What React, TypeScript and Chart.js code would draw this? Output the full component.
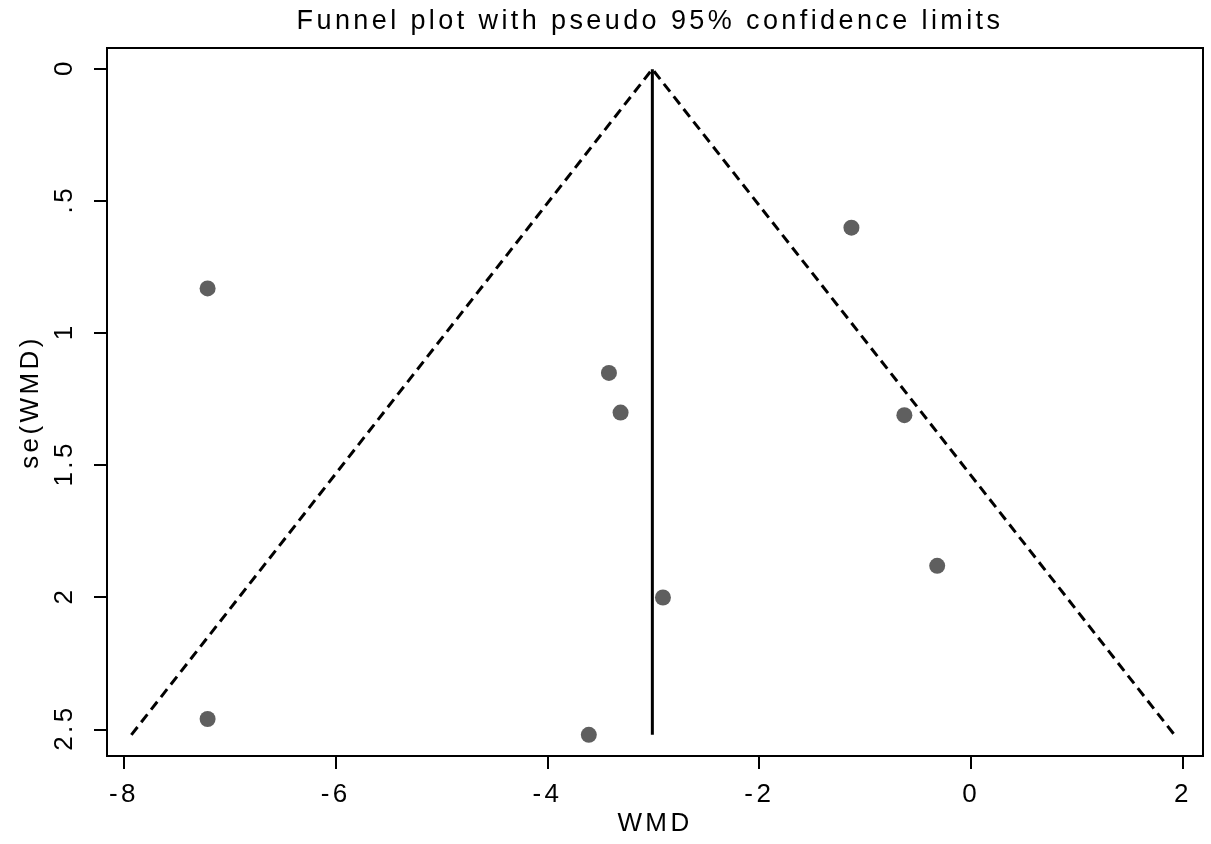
import React, { useEffect, useRef } from "react";
import { Chart, registerables } from "chart.js";

Chart.register(...registerables);

const titleText = "Funnel plot with pseudo 95% confidence limits";
const xAxisTitle = "WMD";
const yAxisTitle = "se(WMD)";

const xTickValues = [-8, -6, -4, -2, 0, 2];
const yTickValues = [0, 0.5, 1, 1.5, 2, 2.5];
const yTickLabels = ["0", ".5", "1", "1.5", "2", "2.5"];

// study estimates (WMD) and their standard errors
const studyWMD = [-7.21, -7.21, -3.42, -3.31, -2.91, -3.61, -1.13, -0.63, -0.32];
const studySE = [0.83, 2.46, 1.15, 1.3, 2.0, 2.52, 0.6, 1.31, 1.88];

// pseudo 95% confidence limits (funnel vertices)
const funnelWMD = [-7.93, -3.01, 1.92];
const funnelSE = [2.52, 0, 2.52];

// pooled estimate line
const pooledWMD = [-3.01, -3.01];
const pooledSE = [0, 2.52];

const FONT = "'Liberation Sans', Arial, sans-serif";
const SPACING = "3.4px";

const framePlugin = {
  id: "frameAndLabels",
  beforeDraw(chart: any) {
    (chart.ctx as any).letterSpacing = SPACING;
  },
  afterDraw(chart: any) {
    const { ctx, chartArea } = chart;
    const { left, right, top, bottom } = chartArea;
    ctx.save();
    ctx.strokeStyle = "#000";
    ctx.lineWidth = 2;
    ctx.strokeRect(left, top, right - left, bottom - top);

    // rotated y tick labels
    const yScale = chart.scales.y;
    ctx.fillStyle = "#000";
    ctx.font = `26px ${FONT}`;
    (ctx as any).letterSpacing = SPACING;
    ctx.textAlign = "center";
    ctx.textBaseline = "middle";
    yTickValues.forEach((v, i) => {
      const y = yScale.getPixelForValue(v);
      ctx.save();
      ctx.translate(65, y - 2);
      ctx.rotate(-Math.PI / 2);
      ctx.fillText(yTickLabels[i], 0, 0);
      ctx.restore();
    });

    // title centred over the plot region
    ctx.font = `27px ${FONT}`;
    ctx.textAlign = "center";
    ctx.textBaseline = "middle";
    ctx.fillText(titleText, (left + right) / 2 - 5, 22);
    ctx.restore();
  },
};

export default function App() {
  const canvasRef = useRef<HTMLCanvasElement>(null);

  useEffect(() => {
    if (!canvasRef.current) return;
    const chart = new Chart(canvasRef.current, {
      type: "scatter",
      data: {
        datasets: [
          {
            label: "Pseudo 95% CI",
            data: funnelWMD.map((x, i) => ({ x, y: funnelSE[i] })),
            showLine: true,
            borderColor: "#000",
            borderWidth: 3,
            borderDash: [10, 6],
            pointRadius: 0,
            fill: false,
            order: 2,
          },
          {
            label: "Pooled",
            data: pooledWMD.map((x, i) => ({ x, y: pooledSE[i] })),
            showLine: true,
            borderColor: "#000",
            borderWidth: 3,
            pointRadius: 0,
            fill: false,
            order: 2,
          },
          {
            label: "Studies",
            data: studyWMD.map((x, i) => ({ x, y: studySE[i] })),
            backgroundColor: "#5f5f5f",
            borderWidth: 0,
            pointRadius: 8,
            order: 1,
          },
        ],
      },
      options: {
        animation: false,
        responsive: true,
        maintainAspectRatio: false,
        layout: { padding: { top: 48, right: 6, bottom: 0, left: 0 } },
        plugins: {
          legend: { display: false },
          tooltip: { enabled: false },
          title: { display: false },
        },
        scales: {
          x: {
            type: "linear",
            position: "bottom",
            min: -8.16,
            max: 2.19,
            afterBuildTicks: (s: any) => {
              s.ticks = xTickValues.map((v) => ({ value: v }));
            },
            afterFit: (s: any) => {
              s.height = 88;
            },
            grid: {
              drawOnChartArea: false,
              drawTicks: true,
              tickLength: 13,
              color: "#000",
              lineWidth: 2,
            },
            border: { display: true, color: "#000", width: 2 },
            ticks: {
              color: "#000",
              font: { family: FONT, size: 26 },
              padding: 10,
              maxRotation: 0,
              minRotation: 0,
              autoSkip: false,
              callback: (v: any) => String(v),
            },
            title: {
              display: true,
              text: xAxisTitle,
              color: "#000",
              font: { family: FONT, size: 26 },
              padding: { top: 0, bottom: 5 },
            },
          },
          y: {
            type: "linear",
            position: "left",
            reverse: true,
            min: -0.08,
            max: 2.6,
            afterBuildTicks: (s: any) => {
              s.ticks = yTickValues.map((v) => ({ value: v }));
            },
            afterFit: (s: any) => {
              s.width = 107;
            },
            grid: {
              drawOnChartArea: false,
              drawTicks: true,
              tickLength: 13,
              color: "#000",
              lineWidth: 2,
            },
            border: { display: true, color: "#000", width: 2 },
            ticks: { display: false },
            title: {
              display: true,
              text: yAxisTitle,
              color: "#000",
              font: { family: FONT, size: 26 },
              padding: { top: 15, bottom: 0 },
            },
          },
        },
      },
      plugins: [framePlugin],
    });
    return () => chart.destroy();
  }, []);

  return (
    <div style={{ position: "fixed", left: 0, top: 0, width: 1211, height: 844, background: "#fff" }}>
      <canvas ref={canvasRef} />
    </div>
  );
}
